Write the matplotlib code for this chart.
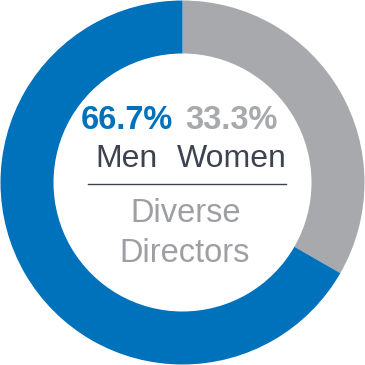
import matplotlib.pyplot as plt

labels = ['Women', 'Men']
values = [33.3, 66.7]
colors = ['#a7a9ac', '#0071bb']
pct_text = ['33.3%', '66.7%']

plt.rcParams['font.family'] = ['Liberation Sans', 'DejaVu Sans']

fig = plt.figure(figsize=(3.65, 3.65), dpi=100)
ax = fig.add_axes([0, 0, 1, 1])

# pie in pixel-like coords (y measured downward from the top, so angles are mirrored)
ax.pie(values, colors=colors, startangle=-90, counterclock=True,
       center=(182.5, 182.5), radius=182,
       wedgeprops=dict(width=53, edgecolor='none'))
ax.set_xlim(0, 365)
ax.set_ylim(365, 0)
ax.set_aspect('equal')
ax.axis('off')

dark = '#3d4350'
ax.text(126.5, 129, pct_text[1], color=colors[1], fontsize=23.5, fontweight='bold',
        ha='center', va='baseline')
ax.text(231, 129, pct_text[0], color=colors[0], fontsize=23.5, fontweight='bold',
        ha='center', va='baseline')
ax.text(127, 167, labels[1], color=dark, fontsize=23, ha='center', va='baseline')
ax.text(232, 167, labels[0], color=dark, fontsize=23, ha='center', va='baseline')

ax.plot([88, 286], [184, 184], color=dark, lw=1)

ax.text(186, 222, 'Diverse', color='#9d9fa2', fontsize=23.5, ha='center', va='baseline')
ax.text(185, 262, 'Directors', color='#9d9fa2', fontsize=23.5, ha='center', va='baseline')

fig.savefig('out.png', dpi=100)
